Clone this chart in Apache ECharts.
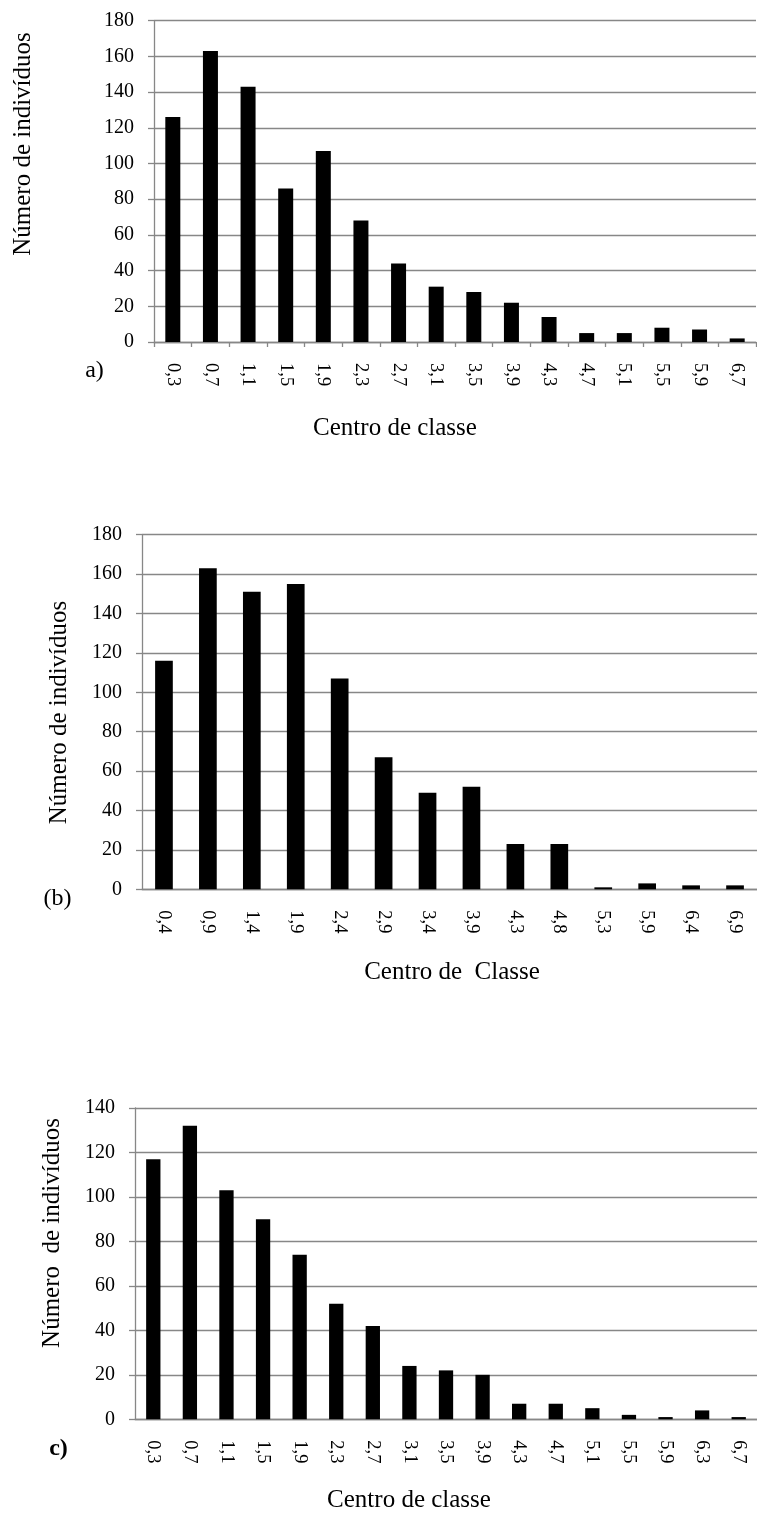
<!DOCTYPE html>
<html>
<head>
<meta charset="utf-8">
<script src="https://cdn.jsdelivr.net/npm/echarts@6/dist/echarts.min.js"></script>
<style>
html,body{margin:0;padding:0;background:#fff;}
#chart{width:757px;height:1517px;}
</style>
</head>
<body>
<div id="chart"></div>
<script>
// ---- Data ----
var catsA = ['0,3','0,7','1,1','1,5','1,9','2,3','2,7','3,1','3,5','3,9','4,3','4,7','5,1','5,5','5,9','6,7'];
var valsA = [126,163,143,86,107,68,44,31,28,22,14,5,5,8,7,2];

var catsB = ['0,4','0,9','1,4','1,9','2,4','2,9','3,4','3,9','4,3','4,8','5,3','5,9','6,4','6,9'];
var valsB = [116,163,151,155,107,67,49,52,23,23,1,3,2,2];

var catsC = ['0,3','0,7','1,1','1,5','1,9','2,3','2,7','3,1','3,5','3,9','4,3','4,7','5,1','5,5','5,9','6,3','6,7'];
var valsC = [117,132,103,90,74,52,42,24,22,20,7,7,5,2,1,4,1];

var yTitleA = 'Número de indivíduos';
var yTitleB = 'Número de indivíduos';
var yTitleC = 'Número  de indivíduos';
var xTitleA = 'Centro de classe';
var xTitleB = 'Centro de  Classe';
var xTitleC = 'Centro de classe';
var panelLabels = ['a)', '(b)', 'c)'];

// ---- Styles ----
var FONT = '"Liberation Serif","Times New Roman",serif';
var GRAY = '#878787';

function xAxisCfg(idx, cats, ticks) {
  return {
    type: 'category', gridIndex: idx, data: cats,
    axisLine: {show: true, lineStyle: {color: GRAY, width: 1.3}},
    axisTick: {show: ticks, alignWithLabel: false, length: 5, lineStyle: {color: GRAY, width: 1.3}},
    axisLabel: {rotate: -90, margin: 21, fontFamily: FONT, fontSize: 18.5, color: '#000', interval: 0},
    splitLine: {show: false}
  };
}
function yAxisCfg(idx, max) {
  return {
    type: 'value', gridIndex: idx, min: 0, max: max, interval: 20,
    axisLine: {show: true, lineStyle: {color: GRAY, width: 1.3}},
    axisTick: {show: true, length: 6, lineStyle: {color: GRAY, width: 1.3}},
    axisLabel: {margin: 20, fontFamily: FONT, fontSize: 20, color: '#000'},
    splitLine: {show: true, lineStyle: {color: GRAY, width: 1.3}}
  };
}
function barSeries(idx, vals, w) {
  return {type: 'bar', xAxisIndex: idx, yAxisIndex: idx, data: vals, barWidth: w,
    itemStyle: {color: '#000'}, silent: true, animation: false};
}
function txt(t, x, y, size, rot, bold) {
  return {type: 'text', x: x, y: y, rotation: rot || 0,
    style: {text: t, x: 0, y: 0, align: 'center', verticalAlign: 'middle',
      font: (bold ? 'bold ' : '') + size + 'px ' + FONT, fill: '#000'}};
}

var chart = echarts.init(document.getElementById('chart'), null, {renderer: 'canvas'});
chart.setOption({
  animation: false,
  backgroundColor: '#fff',
  grid: [
    {left: 154, top: 20.7, width: 602, height: 321.3},
    {left: 142, top: 534.7, width: 621, height: 354.6},
    {left: 135, top: 1108, width: 624, height: 311.3}
  ],
  xAxis: [xAxisCfg(0, catsA, true), xAxisCfg(1, catsB, false), xAxisCfg(2, catsC, false)],
  yAxis: [yAxisCfg(0, 180), yAxisCfg(1, 180), yAxisCfg(2, 140)],
  series: [barSeries(0, valsA, 15), barSeries(1, valsB, 17.7), barSeries(2, valsC, 14.3)],
  graphic: [
    txt(yTitleA, 23, 144, 25, Math.PI / 2),
    txt(yTitleB, 59, 712.5, 25, Math.PI / 2),
    txt(yTitleC, 52, 1233, 25, Math.PI / 2),
    txt(xTitleA, 395, 428, 25),
    txt(xTitleB, 452, 972, 25),
    txt(xTitleC, 409, 1500, 25),
    txt(panelLabels[0], 94.5, 371, 24),
    txt(panelLabels[1], 57.5, 899, 24),
    txt(panelLabels[2], 58.5, 1449, 24, 0, true)
  ]
});
</script>
</body>
</html>
